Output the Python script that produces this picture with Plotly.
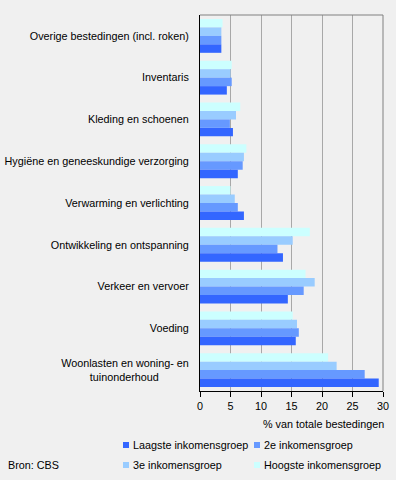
import plotly.graph_objects as go

categories = [
    "Overige bestedingen (incl. roken)",
    "Inventaris",
    "Kleding en schoenen",
    "Hygiëne en geneeskundige verzorging",
    "Verwarming en verlichting",
    "Ontwikkeling en ontspanning",
    "Verkeer en vervoer",
    "Voeding",
    "Woonlasten en woning- en<br>tuinonderhoud" + "\u00a0" * 10,
]
laagste = [3.5, 4.4, 5.4, 6.2, 7.2, 13.6, 14.4, 15.7, 29.3]
tweede = [3.5, 5.2, 4.9, 7.0, 6.2, 12.7, 17.0, 16.2, 27.0]
derde = [3.5, 5.0, 5.9, 7.2, 5.7, 15.2, 18.8, 15.9, 22.4]
hoogste = [3.7, 5.2, 6.6, 7.6, 5.0, 18.0, 17.3, 15.2, 21.0]

series_names = ["Laagste inkomensgroep", "2e inkomensgroep", "3e inkomensgroep", "Hoogste inkomensgroep"]
series_vals = [laagste, tweede, derde, hoogste]
colors = ["#3366FF", "#6699FF", "#99CCFF", "#CCFFFF"]

xticks = [0, 5, 10, 15, 20, 25, 30]

FONT = "Liberation Sans, Arial, sans-serif"
FS = 10.8

W, H = 396, 480
ML, MR, MT, MB = 200, 13, 15, 89
PW, PH = W - ML - MR, H - MT - MB


def px_x(x):
    return (x - ML) / PW


def px_y(y):
    return (H - MB - y) / PH


fig = go.Figure()
# Hoogste drawn first so it sits on top within each group (reversed axis)
for name, vals, col in reversed(list(zip(series_names, series_vals, colors))):
    fig.add_trace(go.Bar(
        y=categories, x=vals, orientation="h", name=name,
        marker=dict(color=col, line=dict(width=0)),
        showlegend=False,
    ))

# legend (2 x 2 grid, as in the original)
legend_pos = [(126, 445), (257, 445), (126, 465), (257, 465)]
shapes = [
    dict(type="line", xref="paper", yref="paper", x0=0, x1=1, y0=1, y1=1,
         line=dict(color="#808080", width=1)),
    dict(type="line", xref="paper", yref="paper", x0=1, x1=1, y0=0, y1=1,
         line=dict(color="#808080", width=1)),
]
annotations = [
    dict(text="% van totale bestedingen", xref="paper", yref="paper",
         x=1, xanchor="right", xshift=3, y=px_y(424), yanchor="middle",
         showarrow=False, font=dict(family=FONT, size=FS)),
    dict(text="Bron: CBS", xref="paper", yref="paper",
         x=px_x(6), xanchor="left", y=px_y(465), yanchor="middle",
         showarrow=False, font=dict(family=FONT, size=FS)),
]
for (cx, cy), name, col in zip(legend_pos, series_names, colors):
    shapes.append(dict(type="rect", xref="paper", yref="paper",
                       x0=px_x(cx - 3), x1=px_x(cx + 3), y0=px_y(cy + 3), y1=px_y(cy - 3),
                       fillcolor=col, line=dict(width=0)))
    annotations.append(dict(text=name, xref="paper", yref="paper",
                            x=px_x(cx + 5), xanchor="left", y=px_y(cy), yanchor="middle",
                            showarrow=False, font=dict(family=FONT, size=FS)))

fig.update_layout(
    width=W, height=H,
    margin=dict(l=ML, r=MR, t=MT, b=MB, autoexpand=False),
    paper_bgcolor="#F0F0F0", plot_bgcolor="#F0F0F0",
    font=dict(family=FONT, size=FS, color="#000000"),
    barmode="group", bargap=0.19, bargroupgap=0,
    showlegend=False,
    xaxis=dict(
        range=[0, 30], tickvals=xticks, ticktext=[str(v) for v in xticks],
        showgrid=True, gridcolor="#A8A8A8", gridwidth=1,
        showline=True, linecolor="#000000", linewidth=1,
        ticks="outside", ticklen=5, tickcolor="#000000",
        zeroline=False, fixedrange=True,
    ),
    yaxis=dict(
        autorange="reversed", showgrid=False,
        showline=True, linecolor="#000000", linewidth=1,
        ticks="", ticklabelstandoff=8, zeroline=False, fixedrange=True,
    ),
    shapes=shapes,
    annotations=annotations,
)

fig.write_html("out.html", config={"displayModeBar": False},
               post_script="document.body.style.margin='0';")
